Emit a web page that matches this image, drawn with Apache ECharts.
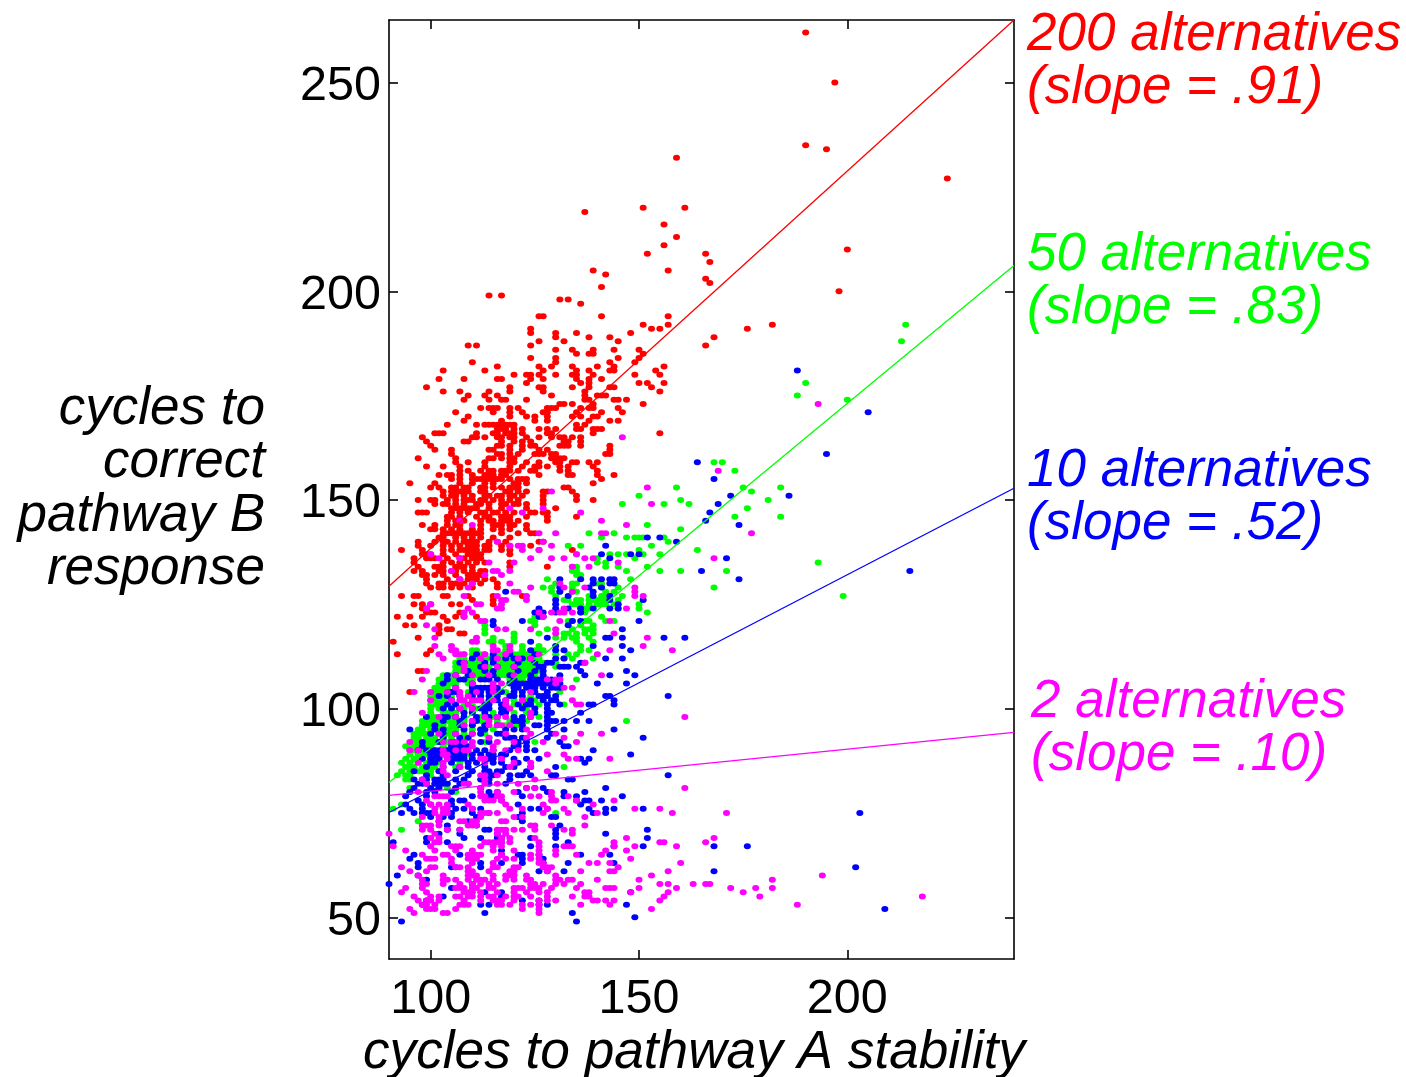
<!DOCTYPE html>
<html><head><meta charset="utf-8">
<style>html,body{margin:0;padding:0;background:#fff}#c{width:1406px;height:1077px}</style>
<script src="https://cdn.jsdelivr.net/npm/echarts@6/dist/echarts.min.js"></script>
</head><body><div id="c"></div>
<script>
const xTicks=[100,150,200];
const yTicks=[50,100,150,200,250];
const xRange=[90,240];
const yRange=[40,265];
const redLine=[[90,129.3],[240,265]];
const greenLine=[[90,82.3],[240,206.2]];
const blueLine=[[90,75.1],[240,152.8]];
const magentaLine=[[90,79.2],[240,94.3]];
const redLabel=["200 alternatives","(slope = .91)"];
const greenLabel=["50 alternatives","(slope = .83)"];
const blueLabel=["10 alternatives","(slope = .52)"];
const magentaLabel=["2 alternatives","(slope = .10)"];
const yTitle=["cycles to","correct","pathway B","response"];
const xTitle="cycles to pathway A stability";
// rows: y value -> x values
const redRows={262:[190],250:[197],235:[190],234:[195],232:[159],227:[224],220:[151,161],219:[137],216:[156],213:[159],211:[156],210:[200],209:[152,166],207:[167],205:[139,157],204:[142],203:[166],202:[167],201:[141],200:[198],199:[114,117],198:[131,133],197:[136],194:[126,127,141,157],192:[151,157,182],191:[124,153,155,176],
190:[124,130,135,148],189:[130,138,143,168],188:[126,132,145],187:[109,111,124,166],186:[130,134,139,144,150],185:[135,138,139,151],184:[124,130,145,150],183:[110,130,143,149],182:[116,126,129,134,140,144,156],181:[103,113,127,135,138,143,144,154],180:[120,123,124,126,130,134,135,139,149,155],179:[102,108,116,117,124,127,135,138,141],178:[123,136,138,150,152,156],177:[99,119,126,127,134,138,143,144,153],176:[103,107,114,119,127,137,155],175:[109,113,116,129,137,140,141,142],174:[108,114,117,118,123,137,138,144,145,147],173:[131,132,134,139,151],172:[112,114,115,116,119,121,128,129,130,136,138,139,145],171:[106,115,119,122,127,128,135,141,146],170:[109,119,123,125,128,134,136,139,140],169:[108,117,125,128,138,143,145],168:[104,111,113,114,115,116,117,118,119,120,135,137],167:[116,117,118,120,122,126,128,130,135,136,139,140,141],166:[101,102,103,111,115,116,118,119,120,122,128,129,139,155],165:[98,110,111,113,117,119,123,126,129,131,132,134,136],164:[99,108,109,117,120,122,124,132,133,136],163:[100,116,117,122,124,131,132,133,136,143],162:[101,105,114,115,119,122,126,128,143],161:[105,117,121,125,126,127,129,130,142,143],160:[97,106,114,115,117,119,120,129,130,131,132],159:[106,109,113,119,120,123,126,130,131,134,135,138,140],158:[99,103,107,113,119,122,125,126,128,131,133,139],157:[107,109,114,115,117,119,121,124,125,131,133,140],156:[102,104,105,107,110,113,114,115,117,118,126,133,134,140,144],155:[105,107,111,112,113,114,115,116,117,119,122,123,141],154:[95,101,107,110,113,115,120,121,123,139],153:[100,102,106,108,112,113,117,120,121,132,133],152:[103,105,106,107,108,109,112,113,118,119,121,123,127,128,134],151:[103,106,108,114,117,119,122,127,135],150:[97,100,101,106,109,110,112,113,117,121,127,135,139],149:[101,103,104,106,111,112,117,118,121,127],148:[105,106,107,108,109,110,111,114,117,123,130],147:[97,98,99,107,113,115,118,124,125,127,128],146:[104,105,113,114,117,118,123,128,135],145:[106,114,115,118,119,128],144:[98,101,104,107,115,117,119,120,123],143:[100,103,107,110,115,123],142:[103,104,105,106,107,108,109,110,111,112,117,121,124,125],141:[102,103,110,115,119],140:[97,101,104,106,108,110,111,116,126,127],139:[97,100,103,107,109,110,111,114,119,124],138:[93,98,103,105,107,108,109,111,114,117,119,126,134],137:[98,99,100,109,110,111,112,119],136:[96,99,100,107,110,111,112],135:[96,103,107,111,113,119],134:[101,102,103,106,107,108,119,128],133:[96,98,102,103,105,106,108,112,113],132:[98,99,103,109,110,111,112],131:[99,107,109,110,111,115],130:[99,102,105,106,107,108,112,116],129:[102,103,105,107,116],127:[93,96,97,103,104,109,115,122],126:[110,115],125:[96,98,100,105,107,115],124:[98,99],123:[99,100,101,107],122:[92,95,98,103,106,108,111],121:[104],120:[94,96,102],119:[102,104,105],118:[102,107,108],117:[97],116:[91],114:[100],113:[92,99],109:[97,98],104:[95]};
const redDense={165:[116,120],163:[119,125],161:[116,119],157:[112,118],155:[110,121],153:[105,109,115,119],151:[105,110,113,116,120],150:[104,108,115,119],149:[108,114,120,123],147:[105,109,112,116,120],146:[107,111,119],145:[104,108,112,117,121],144:[106,112,116],143:[101,105,112,117,119],141:[106,108,112],140:[103,109,114,118],139:[105,113,117],138:[110,113],137:[103,106],136:[101,104,108],135:[105,109],134:[97,110],133:[110],132:[101,106],131:[104,113],130:[103,110],129:[100,110]};
const greenRows={192:[214],188:[213],178:[190],175:[188],174:[200],159:[168,170],157:[173],153:[159,175,184],152:[177],151:[150],150:[160,181],149:[146,156,162],148:[176],146:[173,184],144:[152],143:[160],142:[138,144],141:[141,147,149,150,151,156],140:[157],139:[133,136,153],138:[150,164],137:[135,143,145,147,151,155],136:[140,149],135:[140,142,193],134:[134,135,142,145,152],133:[134,135,147,155,160,171],132:[135,136],131:[128,148],130:[130,134,135,140,141],129:[127,129,134,141,145,168],128:[129,131,134,135,142,144],127:[130,138,141,142,143,146,199],126:[132,133,135,136,138,139,140,141,142,145],125:[134,135,136,138,140,141,142,144,145,150],124:[136,137,138,145,150],123:[136,137,152],122:[125,126,141],121:[124,125,133,134,137,138,142,144],120:[113,125,136,139],119:[113,128,134,137,138,139],118:[113,120,126,132,133,135,137,139],117:[115,120,130,132,134,135,138],116:[114,115,117,120,135,139],115:[118,122,126,136],114:[110,111,118,122,125,126,127,136,138],113:[108,110,111,112,113,116,117,118,119,120,121,122,123,124,126,130,133,135],112:[107,108,110,111,113,114,115,116,117,118,119,120,122,123,125,126,132,134,139],111:[106,107,108,109,110,111,112,113,116,117,118,119,120,122,123,124,125,126,127,130],110:[106,107,108,109,110,111,112,113,114,116,117,118,119,120,121,122,123,124,125,126,130],109:[106,107,108,109,110,111,112,113,114,115,116,117,118,119,120,121,122,123,124,125,126],108:[103,104,105,106,109,110,111,112,113,114,115,116,117,118,119,120,121,122,123,124,125],107:[102,103,104,105,106,108,109,110,119,120,121,122,125,135],106:[102,103,104,105,106,109],105:[101,102,103,104,110],104:[101,102,103,109,110,118,131],103:[100,101,102,103,105,110,112,119,124,128],102:[100,101,102,103,104,105,110,120,123,125],101:[100,101,102,103,104,105,108,109,110,120,122,126,132],100:[100,102,103,108,110,111,119,123],99:[100,103,104,105,106,108,115,120,123,124],98:[99,100,101,102,103,104,105,106,112,115,120,126],97:[98,99,100,101,102,103,104,105,106,107,108,112,113,116,119,123,147],96:[98,99,100,102,103,105,106,108,110,113,118,120,121],95:[97,98,100,101,102,104,105,106,110,112,113,115],94:[96,97,98,99,100,102,104,105,108,112,113],93:[96,97,99,100,101,103,105,108,114],92:[96,97,99,100,101,102,104,113,125],91:[94,95,96,97,98,99,100,103,106],90:[95,96,98,99,101,104,108],89:[95,97,98,99,100,105,109],88:[94,96,97,98,100,102],87:[93,95,97,99,100,102,107],86:[94,95,96,98,99,100,101,106,132],85:[93,95,96,97,98,99,100,102],84:[92,94,95,100],83:[94,95],82:[101,102],81:[95,104,106],80:[95,106],78:[105],77:[93],76:[91],75:[130],73:[97],71:[93]};
const blueRows={181:[188],171:[205],161:[195],159:[164],155:[168],151:[172,186],149:[169],147:[167],145:[166],144:[174],141:[152,155],140:[159],139:[142],137:[141,148,150],136:[143,171],133:[165,215],131:[131,136,139,141,143,144,174],130:[139,143,144],129:[131,138,141],128:[118,131,139],127:[133,139,143],126:[130,143,151],125:[130,145],124:[126,130,133,136,139,143,145],123:[125,127,130,136],122:[126,127],121:[115,122,134,136,150],120:[115,133],119:[146],117:[128,142,143,146,156,161],116:[124],115:[130,139,146],114:[124,130,132,148],112:[115,120,124,130,132,142,146],111:[107,113,128,129,136,137],110:[116,127,131,132,133,135],109:[115,127,136,147],108:[104,109,124,131,137,143,149],107:[107,108,112,113,114,124,125,126,127,128,129],106:[103,110,119,120,121,122,123,124,125,126,127,128,129,130,131,140,147],105:[110,111,112,113,114,120,121,124,125,127,129,130,131],104:[105,106,110,112,114,116,117,120,122,125,128],103:[104,107,110,112,116,119,122,126,127,128,130,142,143,157],102:[105,112,114,116,118,124,127,129,130,144],101:[104,106,113,114,117,118,121,123,124,128,131,138,139,144],100:[103,105,112,113,114,117,118,122,125,128],99:[108,110,113,117,118,125,128,129,136],98:[99,103,104,108,111,114,120,122,124,128],97:[103,107,110,111,120,121,122,128,129,130,132,135,138],96:[107,110,113,122,125,126,128],95:[95,101,103,108,112,113,118,120,122,128,132,144],94:[100,103,112,116,117,129],93:[103,107,109,118,119,120,122,128,151],92:[98,105,106,107,108,112,121,123,131],91:[98,105,106,107,108,109,120,121,123,132,133],90:[99,100,101,102,104,105,106,107,108,111,113,119,123,125,139],89:[100,101,102,103,104,105,106,107,108,110,112,114,115,117,118,148],88:[98,100,101,102,104,105,106,107,108,110,113,114,115,117,120,123,126,136,138],87:[101,109,117,137],86:[107,113,118,124,130],85:[110,113,114,117,123],84:[113,114,115,119,121,122,124,129,130,157],83:[96,98,101,102,103,106,112,119,133,134],82:[98,99,101,102,103,104,107,114,118],81:[96,100,123,125,127,142],80:[95,101,114,116,121,128,132,137],79:[94,99,110,114,115,122,132,135,146],78:[97,105,107,108,117,135,137,138,141],77:[94,98,100,105,121,136],76:[95,98,106,108,110,112,124,126,128,138,142,144,151],75:[93,96,98,99,100,105,110,114,122,139,142,203],74:[100,103,105,111,121,129,130],73:[102,109,122],72:[104,111,131],71:[104,107,113,114,130,152],70:[102,107,116,130,142],69:[99,108,112,116,117,124,130,152],68:[91,99,104,117,133],67:[124,130,144,151,168,176],66:[117],65:[96,107,117,121,122,126,136,143],64:[95,122,127],63:[97,112,117,122,127,133,144],62:[97,105,106,112,202],61:[126,128,132,168],60:[92,97],59:[99],58:[90,110],57:[105],56:[113,117,148],55:[103,117],54:[99,122,126],53:[98,112,114,126,128,147],52:[209],51:[113,134],50:[149],49:[93,135]};
const blueDense={113:[111,115,119,125],112:[110,118,122],111:[108,115,121,125],110:[112,120,126],109:[109,113,121,125],108:[106,115,119,127],107:[104,116,120],105:[106,116,123],103:[102,114,120],100:[107,110],98:[106,116],96:[101,116],94:[106,110],92:[102,114],90:[97,115],87:[100,105,111,115,121],86:[99,103,109,120],85:[96,102,106,116],84:[99,103,109],83:[99,108,114],82:[97,109],81:[102,106,112],80:[99,105]};
const magentaRows={173:[193],165:[146],157:[169],153:[152],152:[129],149:[153],148:[119,127],147:[122,136],145:[107,141],144:[110,147],142:[126,130,141,142,177],140:[116,127],139:[119,121,122,129],138:[122,126],137:[100,135],136:[102,107,124,129,132,137,139,168],135:[114,120,145],134:[134,138],133:[105,115,116,119],132:[113,117],131:[107],130:[110,119,131],129:[109,124,132,137,149],128:[120,121,134,149],127:[108,116,123,149,151],126:[117,118,123],125:[100,111,112,117],124:[99,109,116,117,132,147],123:[108,110,126,129,131,132,134],122:[108,127],121:[112,113,131,143],120:[99],119:[101,116,118,124,130],118:[130,144],117:[101,111,152],116:[110,111],115:[101,105,115,119,151],114:[105,106,115,116,119,143,158],113:[102,106,107,108,113,118,126,140],112:[103,112,124],111:[108,137],110:[113,120],109:[99,108],108:[110,141],107:[98,128,130,131],106:[115,130],105:[106,115,132,134],104:[96,100,107,115],103:[107,109],102:[100,107,108,110,111,112,115,122,134],101:[109,118,135,136],100:[107],99:[98,124],98:[106,116,118,124,161],97:[110,114],96:[114,116,117],95:[123],94:[102,110,124,130,136,141],93:[114,123,132],92:[95,103,105,106,110,116,127,135],91:[110,115],90:[95,97,103,108,109,115,121],89:[103,104,128,132],88:[112,113,133,135,143],87:[97,103,113,120,124],86:[103,124],85:[103,128],84:[112,113],83:[98,113,125],82:[99,108,109,113],81:[112,123,125,161],80:[97,112,116,120,129],79:[101,102,103,104,112,113,116,117,124,126,129,133],78:[99,113,114,115,117,129,130,135,144],77:[100,102,104,109,118,127,139],76:[101,103,104,110,119,122,128,132,149,155],75:[101,103,104,112,113,114,116,127,133,140,158,171],74:[98,102,112,120,122,137],73:[102,107,108,110,111,117,118],72:[98,99,100,102,109,110,111,124,125,129,137],71:[98,100,104,107,116,117,118,120,122,125,132,134],70:[90,101,116,118,134],69:[100,102,117,119,125,147,168],68:[101,102,113,114,115,116,117,119,126,144,155,156,166],67:[91,100,105,106,107,112,115,117,126,132,133,134,144,149,159],66:[94,101,106,110,115,120,126,130,142,147],65:[98,103,104,109,110,111,112,117,124,126,130,135,141],64:[99,100,101,105,109,110,111,116,118,120,124,126,148],63:[105,110,115,126,127,138,140,143,160],62:[93,100,101,106,107,109,115,116,120,121,127,128,129,145],61:[95,99,109,110,114,119,120,128,136,143,144,157],60:[97,103,109,110,111,115,118,119,120,123,130,153,194],59:[98,103,104,106,109,111,112,113,115,118,120,123,124,130,131,133,134,140,150,182],58:[98,99,103,107,110,112,114,116,124,125,127,130,132,136,155,157,163,166,167],57:[94,98,106,107,108,110,111,114,115,120,121,122,124,125,126,129,135,142,143,144,150,159,172,178,182],56:[93,99,108,109,110,112,116,120,123,126,128,137,138,148,157,175],55:[96,100,102,106,107,109,110,112,114,115,118,120,121,124,128,134,137,138,156,179,218],54:[97,99,100,102,108,112,115,116,117,120,126,128,130,139,140,142,144,155],53:[98,99,101,107,108,109,116,117,119,122,124,126,136,143,188],52:[95,99,100,101,106,122,126,153],51:[96,103,104,126]};
const magentaDense={112:[116,121],110:[108,116],108:[106,114,120],106:[110,117],104:[104,111,124],102:[105,118],100:[110,119],98:[102,113],96:[108,119],94:[106,118],92:[108,120],90:[106,118],88:[104,117],86:[107,119],84:[104,116],82:[116,121]};

const flat=(...rs)=>rs.flatMap(r=>Object.keys(r).flatMap(y=>r[y].map(x=>[x,+y])));
const pts=(name,data,color,z)=>({name,type:'scatter',data,symbol:'circle',symbolSize:[7,6],clip:false,z,
  itemStyle:{color,opacity:1},emphasis:{disabled:true},silent:true,animation:false});
const line=(name,data,color)=>({name,type:'line',data,symbol:'none',lineStyle:{color,width:1.3},z:6,silent:true,animation:false});
const FONT='"Liberation Sans",Arial,sans-serif';
const ITALIC='italic 53px '+FONT;
const lab=(lines,x,y,fill)=>({type:'text',left:x,top:y,style:{text:lines.join('\n'),font:ITALIC,lineHeight:53.5,fill}});
const axisX=(position,show)=>({type:'value',position,min:xRange[0],max:xRange[1],splitLine:{show:false},
  axisLine:{onZero:false,lineStyle:{color:'#000',width:1.6}},
  axisTick:{inside:true,length:9,lineStyle:{color:'#000',width:1.6},customValues:xTicks},
  axisLabel:{show,customValues:xTicks,fontSize:48.5,fontFamily:FONT,color:'#000',margin:16}});
const axisY=(position,show)=>({type:'value',position,min:yRange[0],max:yRange[1],splitLine:{show:false},
  axisLine:{onZero:false,lineStyle:{color:'#000',width:1.6}},
  axisTick:{inside:true,length:9,lineStyle:{color:'#000',width:1.6},customValues:yTicks},
  axisLabel:{show,customValues:yTicks,margin:8,formatter:'{a|{value}}',
    rich:{a:{fontSize:48.5,fontFamily:FONT,color:'#000',padding:[8,0,0,0]}}}});
const chart=echarts.init(document.getElementById('c'),null,{renderer:'canvas'});
chart.setOption({animation:false,backgroundColor:'#fff',
  grid:{left:389,top:20,width:625,height:939},
  xAxis:[axisX('bottom',true),axisX('top',false)],
  yAxis:[axisY('left',true),axisY('right',false)],
  series:[pts('200 alternatives',flat(redRows,redDense),'#ff0000',2),pts('50 alternatives',flat(greenRows),'#00ff00',3),
    pts('10 alternatives',flat(blueRows,blueDense),'#0000ff',4),pts('2 alternatives',flat(magentaRows,magentaDense),'#ff00ff',5),
    line('fit 200',redLine,'#ff0000'),line('fit 50',greenLine,'#00ff00'),line('fit 10',blueLine,'#0000ff'),line('fit 2',magentaLine,'#ff00ff')],
  graphic:[lab(redLabel,1027,8,'#ff0000'),lab(greenLabel,1027,228,'#00ff00'),lab(blueLabel,1027,444,'#0000ff'),lab(magentaLabel,1031,675,'#ff00ff'),
    ...yTitle.map((t,i)=>({type:'text',right:1406-265,top:382+i*53.5,style:{text:t,font:ITALIC,lineHeight:53.5,fill:'#000'}})),
    {type:'text',left:363,top:1027,style:{text:xTitle,font:'italic 53.2px '+FONT,fill:'#000'}}]
});
</script></body></html>
